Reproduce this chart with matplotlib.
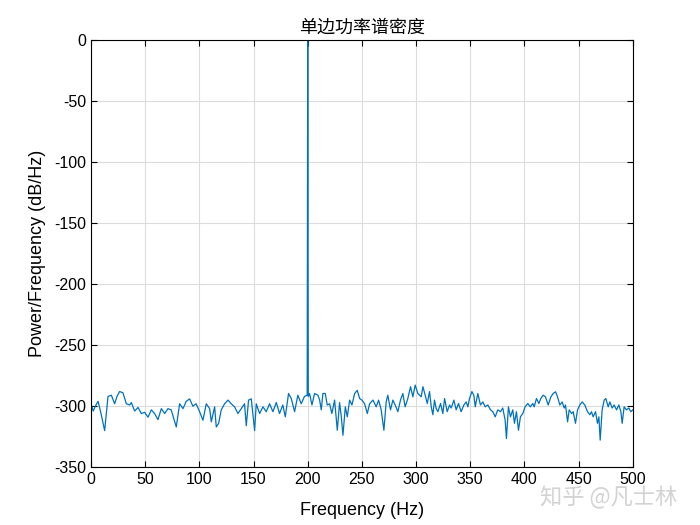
import matplotlib.pyplot as plt

plt.rcParams['font.family'] = ['Liberation Sans', 'Noto Sans CJK SC', 'DejaVu Sans']
plt.rcParams['axes.unicode_minus'] = False

# frequency (Hz) and one-sided PSD (dB/Hz)
freq = [0, 2, 4, 6.5, 9, 12.6, 15.7, 18.8, 21.8, 24, 26.4, 29.5, 32.6, 35.7, 37.2,
        40.3, 43.4, 46.4, 49.5, 52.6, 55.7, 58.7, 61.8, 64.9, 68, 71, 74, 78.7,
        81.8, 84.9, 87.9, 91, 94, 97, 100,
        103.3, 106.4, 109.5, 111, 114.1, 115.6, 117.8, 120.2, 123.3, 126.4, 129.4,
        132.5, 135.6, 138.7, 141.7, 143.3, 145.4, 147.9, 151, 152.5, 155.6, 158.7,
        161.7, 164.8, 167.9, 171, 174, 177, 179.3, 182.3, 184.8, 187.9, 190.9, 194,
        197, 199.5, 200, 200.5,
        201.7, 203.9, 206.3, 209.4, 211, 212.5, 214, 216.2, 218, 220.2, 222.3, 224.8,
        227.3, 229.4, 231, 232.5, 234.7, 236.5, 238.7, 240.8, 243.3, 245.7, 247.9,
        250, 252.5, 255, 257.1, 260.2, 263.2, 265.4, 267.8, 270.3, 272.4, 273.9,
        276.4, 278.6, 280.7, 283.2, 285.6, 287.8, 289.9, 292.4, 294.9, 297, 299.2,
        301.6, 304.7,
        306.3, 308.4, 310.3, 312.4, 314, 315.5, 317, 318.6, 320.1, 322.6, 324.7,
        326.3, 328.7, 330.9, 332.4, 334.9, 337, 339.2, 341.6, 344.1, 346.2, 347.8,
        349.3, 351.5, 353.3, 354.6, 357, 359.4, 361.6, 363.8, 366.2, 368.7, 370.8,
        373, 375.4, 377.9, 380, 382.2, 383.4, 385.2, 387.1, 389.2, 390.8, 392.6,
        394.5, 396.3, 398.5, 400.6, 403.1, 405.5, 407.7,
        409, 411.1, 413.3, 415.1, 417.3, 419.4, 421.9, 424.4, 426.5, 428.7, 430.5,
        432.7, 434.8, 436.7, 437.9, 439.8, 441.3, 443.5, 445, 447.1, 449, 451.1,
        453.3, 455.7, 458.2, 460.4, 461.9, 463.4, 465.6, 467.4, 468.7, 469.9, 471.7,
        473.6, 475.1, 477.3, 478.8, 481, 482.8, 485, 487.1, 489, 490.2, 492, 494.2,
        496.3, 498.2, 500]
psd = [-298, -304, -300, -296, -305, -320, -292, -291, -298, -292, -288, -289, -298, -299, -297,
       -304, -301, -306, -305, -309, -303, -306, -311, -302, -306, -302, -303, -317,
       -298, -302, -296, -294, -300, -298, -304,
       -311.5, -298, -302, -312.8, -300.5, -317, -314, -303, -298, -295, -298,
       -300.5, -306, -302, -298, -316, -295, -294, -320, -298, -306, -300.5,
       -304.5, -298, -304.5, -297, -306, -299, -308.7, -289.6, -293.7, -304.5, -291, -298,
       -292, -291, 0, -292,
       -289.6, -299, -289.6, -291, -295, -303, -289.6, -289.6, -299, -298, -306, -295,
       -319.7, -297, -308.7, -323.8, -300.5, -308.7, -295, -299, -289.6, -287, -293.7,
       -295, -298, -306, -298, -295, -300.5, -295, -303, -319.7, -296.5, -291,
       -303, -295, -299, -304.5, -295, -289.6, -300.5, -293.7, -284, -292.3, -282.7,
       -289.6, -292.3,
       -284, -291, -297.8, -288, -300.5, -307, -295, -302, -304.5, -297.8, -306,
       -293.7, -304.5, -299, -301.5, -295, -303, -297.8, -304.5, -299, -296.5, -300.5,
       -293.7, -288, -291, -300.5, -289.6, -299, -296.5, -300.5, -299, -303, -304.5,
       -308.7, -303, -304.5, -301.5, -311.5, -326.5, -300.5, -308.7, -303, -314, -304.5,
       -319.7, -308.7, -306, -300.5, -297.8, -300.5, -297.8,
       -300.5, -293.7, -297.8, -293.7, -291, -292.3, -299, -292.3, -289.6, -288.2, -292.3,
       -299, -296.5, -301.5, -299, -312.8, -303, -306, -304.5, -314, -303, -299,
       -296.5, -299, -304.5, -307, -304.5, -308.7, -304.5, -314, -308.7, -327.8, -303,
       -295, -293.7, -300.5, -296.5, -301.5, -299, -303, -299, -304.5, -314, -300.5, -303,
       -301.5, -304.5, -303]

xticks = list(range(0, 501, 50))
yticks = list(range(-350, 1, 50))

fig = plt.figure(figsize=(7, 5.25), dpi=100)
ax = fig.add_axes([0.13, 0.11, 0.774, 0.814])

ax.plot(freq, psd, color='#0072BD', linewidth=0.9)

ax.set_xlim(0, 500)
ax.set_ylim(-350, 0)
ax.set_xticks(xticks)
ax.set_yticks(yticks)
ax.grid(True, color='#dcdcdc', linewidth=0.8)
ax.set_axisbelow(True)
ax.tick_params(direction='in', length=4, labelsize=11.5, top=True, right=True,
               labeltop=False, labelright=False)
for s in ax.spines.values():
    s.set_linewidth(0.8)

ax.set_title('单边功率谱密度', fontsize=13, family=['Noto Sans CJK SC'], pad=5)
ax.set_xlabel('Frequency (Hz)', fontsize=13, labelpad=11)
ax.set_ylabel('Power/Frequency (dB/Hz)', fontsize=13, labelpad=6)

# watermark, as in the reference it sits over the last tick labels
fig.text(0.772, 0.04, '知乎 @凡士林', fontsize=16, color='#c8c8c8',
         family=['Noto Sans CJK SC'], alpha=0.8)

fig.savefig('out.png', dpi=100)
